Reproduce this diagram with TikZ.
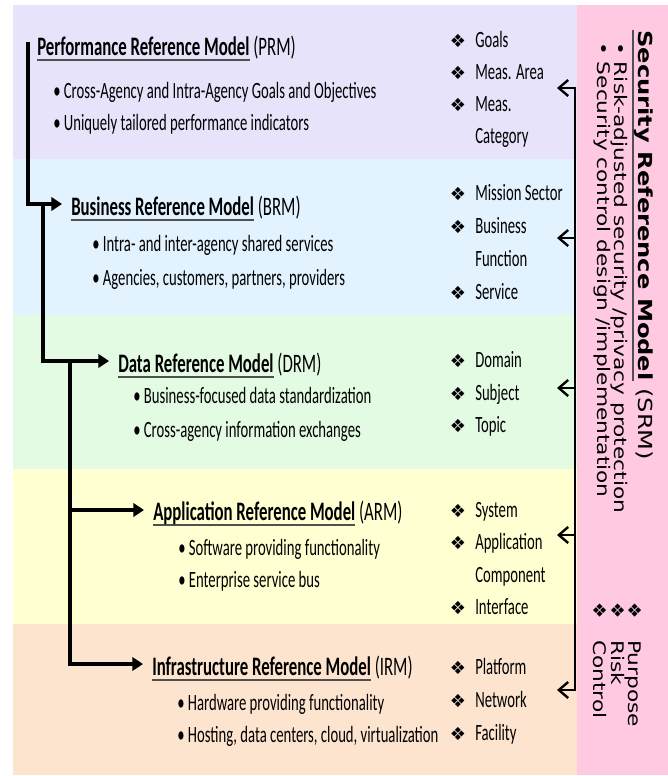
\documentclass[tikz,border=0pt]{standalone}
\usepackage{fontspec}
\setmainfont{Carlito}[FakeStretch = 0.63]
\newfontfamily\srmfont{DejaVu Sans}[FakeStretch = 1.25]
\newfontfamily\dmfont{DejaVu Sans}
\usetikzlibrary{arrows.meta, calc, positioning}
\tikzset{> = { Triangle[length = 8pt, width = 10pt] }}

\definecolor{prmcol}{RGB}{230,227,251}
\definecolor{brmcol}{RGB}{226,242,255}
\definecolor{drmcol}{RGB}{226,251,226}
\definecolor{armcol}{RGB}{255,255,210}
\definecolor{irmcol}{RGB}{253,228,207}
\definecolor{srmcol}{RGB}{255,201,225}
\definecolor{ulgray}{RGB}{80,80,80}

\newcommand{\titlefont}{\fontsize{20}{24}\selectfont}
\newcommand{\bodyfont}{\fontsize{17.5}{24}\selectfont}
\newcommand{\ulbf}[1]{\setbox0\hbox{\bfseries #1}\rlap{\textcolor{ulgray}{\rule[-4.5pt]{\wd0}{1.5pt}}}\box0\relax}
\newcommand{\dm}{{\dmfont\fontsize{13.5}{13.5}\selectfont ❖}}

\begin{document}
\begin{tikzpicture}[x = 0.75pt, y = -0.75pt,
		title/.style = { anchor = base west, inner sep = 0, font = \titlefont },
		point/.style = { anchor = base west, inner sep = 0, font = \bodyfont },
		side/.style = { rotate = -90, anchor = base west, inner sep = 0, font = {\srmfont\fontsize{13}{16}\selectfont} },
		tree/.style = { ->, line width = 2.3pt },
		barb/.style = { line width = 1.8pt, {Straight Barb[length = 7pt, width = 12pt]}-{Straight Barb[length = 7pt, width = 12pt]} },
		feed/.style = { line width = 1.8pt, {Straight Barb[length = 7pt, width = 12pt]}- }]
		\useasboundingbox (0,0) rectangle (668,776);
		\fill [white] (0,0) rectangle (668,776);

		% bands
		\fill [prmcol] (13,5) rectangle (577,159);
		\fill [brmcol] (13,159) rectangle (577,315);
		\fill [drmcol] (13,315) rectangle (577,469);
		\fill [armcol] (13,469) rectangle (577,624);
		\fill [irmcol] (13,624) rectangle (577,775);
		\fill [srmcol] (577,5) rectangle (668,775);

		% models
		\node [title] (prm)  at (37,55)  {\ulbf{Performance Reference Model} (PRM)};
		\node [point] (prm1) at (53,98)  {\textbullet\ Cross-Agency and Intra-Agency Goals and Objectives};
		\node [point] (prm2) at (53,130) {\textbullet\ Uniquely tailored performance indicators};

		\node [title] (brm)  at (71,215) {\ulbf{Business Reference Model} (BRM)};
		\node [point] (brm1) at (92,251) {\textbullet\ Intra- and inter-agency shared services};
		\node [point] (brm2) at (92,285) {\textbullet\ Agencies, customers, partners, providers};

		\node [title] (drm)  at (118,372) {\ulbf{Data Reference Model} (DRM)};
		\node [point] (drm1) at (133,403) {\textbullet\ Business-focused data standardization};
		\node [point] (drm2) at (133,437) {\textbullet\ Cross-agency information exchanges};

		\node [title] (arm)  at (153,520) {\ulbf{Application Reference Model} (ARM)};
		\node [point] (arm1) at (178,555) {\textbullet\ Software providing functionality};
		\node [point] (arm2) at (178,587) {\textbullet\ Enterprise service bus};

		\node [title] (irm)  at (152,675) {\ulbf{Infrastructure Reference Model} (IRM)};
		\node [point] (irm1) at (177,710) {\textbullet\ Hardware providing functionality};
		\node [point] (irm2) at (177,742) {\textbullet\ Hosting, data centers, cloud, virtualization};

		% layers of each model
		\node [point] (prmA) at (475,47)  {\llap{\dm\hspace{7pt}}Goals};
		\node [point] (prmB) at (475,79)  {\llap{\dm\hspace{7pt}}Meas. Area};
		\node [point] (prmC) at (475,111) {\llap{\dm\hspace{7pt}}Meas.};
		\node [point] (prmD) at (475,143) {Category};

		\node [point] (brmA) at (475,200) {\llap{\dm\hspace{7pt}}Mission Sector};
		\node [point] (brmB) at (475,233) {\llap{\dm\hspace{7pt}}Business};
		\node [point] (brmC) at (475,266) {Function};
		\node [point] (brmD) at (475,299) {\llap{\dm\hspace{7pt}}Service};

		\node [point] (drmA) at (475,367) {\llap{\dm\hspace{7pt}}Domain};
		\node [point] (drmB) at (475,400) {\llap{\dm\hspace{7pt}}Subject};
		\node [point] (drmC) at (475,432) {\llap{\dm\hspace{7pt}}Topic};

		\node [point] (armA) at (475,517) {\llap{\dm\hspace{7pt}}System};
		\node [point] (armB) at (475,549) {\llap{\dm\hspace{7pt}}Application};
		\node [point] (armC) at (475,582) {Component};
		\node [point] (armD) at (475,614) {\llap{\dm\hspace{7pt}}Interface};

		\node [point] (irmA) at (475,674) {\llap{\dm\hspace{7pt}}Platform};
		\node [point] (irmB) at (475,707) {\llap{\dm\hspace{7pt}}Network};
		\node [point] (irmC) at (475,740) {\llap{\dm\hspace{7pt}}Facility};

		% security column
		\node [side, font = {\srmfont\fontsize{14.5}{16}\selectfont}] (srm) at (638,30) {\ulbf{Security Reference Model} (SRM)};
		\node [side] (srm1) at (614,42) {\textbullet\ Risk-adjusted security /privacy protection};
		\node [side] (srm2) at (597,42) {\textbullet\ Security control design /implementation};
		\node [side] (srmP) at (628,640) {\llap{\dm\hspace{16pt}}Purpose};
		\node [side] (srmR) at (611,640) {\llap{\dm\hspace{16pt}}Risk};
		\node [side] (srmC) at (593,640) {\llap{\dm\hspace{16pt}}Control};

		% left tree
		\coordinate (root) at (28,42);
		\coordinate (j1) at (43,0);
		\coordinate (j2) at (70,0);
		\coordinate (brmTip) at ([shift = {(-9,-11)}]brm.base west);
		\coordinate (drmTip) at ([shift = {(-9,-11)}]drm.base west);
		\coordinate (armTip) at ([shift = {(-9,-10)}]arm.base west);
		\coordinate (irmTip) at ([shift = {(-9,-11)}]irm.base west);
		\draw [tree] (root) |- (brmTip);
		\draw [tree] (brmTip -| j1) |- (drmTip);
		\draw [tree] (drmTip -| j2) |- (armTip);
		\draw [tree] (armTip -| j2) |- (irmTip);

		% right feed from the SRM
		\coordinate (s1) at (557,88);
		\coordinate (s2) at (557,238);
		\coordinate (s3) at (557,388);
		\coordinate (s4) at (557,535);
		\coordinate (s5) at (557,690);
		\coordinate (spine) at (575,0);
		\draw [barb] (s1) -| (s5 -| spine) -- (s5);
		\draw [feed] (s2) -- (s2 -| spine);
		\draw [feed] (s3) -- (s3 -| spine);
		\draw [feed] (s4) -- (s4 -| spine);
	\end{tikzpicture}
\end{document}
